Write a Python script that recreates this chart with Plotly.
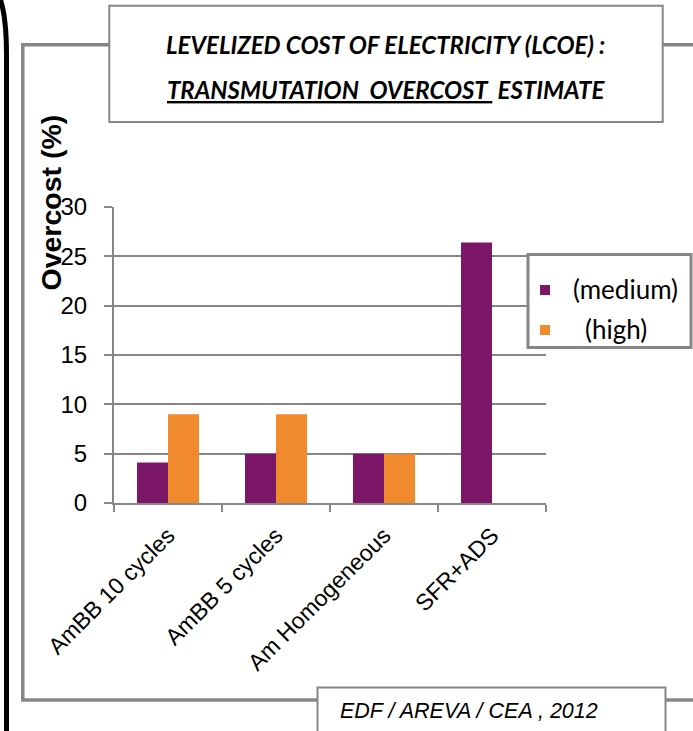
import plotly.graph_objects as go

# Chart data
categories = ["AmBB 10 cycles", "AmBB 5 cycles", "Am Homogeneous", "SFR+ADS"]
series_names = ["(medium)", "(high)"]
medium_values = [4.1, 5, 5, 26.4]
high_values = [9, 9, 5, None]
y_ticks = [0, 5, 10, 15, 20, 25, 30]

title_line1 = "LEVELIZED COST OF ELECTRICITY (LCOE) :"
title_line2_underlined = "TRANSMUTATION\u00a0\u00a0OVERCOST\u00a0"
title_line2_rest = "\u00a0ESTIMATE"
y_title = "Overcost (%)"
source_text = "EDF / AREVA / CEA , 2012"

PURPLE = "#7B1668"
ORANGE = "#F08A2C"
GRAY = "#868686"

W, H = 693, 731


def px(x):
    return x / W


def py(y):
    return 1 - y / H


fig = go.Figure()
fig.add_trace(go.Bar(x=categories, y=medium_values, name=series_names[0],
                     marker=dict(color=PURPLE, line=dict(width=0))))
fig.add_trace(go.Bar(x=categories, y=high_values, name=series_names[1],
                     marker=dict(color=ORANGE, line=dict(width=0))))

xtick_font = dict(family="Liberation Sans, Arial", size=23, color="#000000")
ytick_font = dict(family="Liberation Sans, Arial", size=24, color="#000000")

fig.update_layout(
    width=W, height=H,
    margin=dict(l=0, r=0, t=0, b=0),
    paper_bgcolor="white", plot_bgcolor="white",
    template="none",
    showlegend=False,
    barmode="group", bargap=0.426, bargroupgap=0,
    xaxis=dict(
        domain=[px(114), px(546)],
        type="category",
        tickson="boundaries",
        ticks="outside", ticklen=7, tickwidth=2, tickcolor=GRAY,
        showline=True, linecolor=GRAY, linewidth=2,
        showgrid=False, zeroline=False,
        tickangle=-45, tickfont=xtick_font,
        ticklabelstandoff=8,
        automargin=False,
    ),
    yaxis=dict(
        domain=[py(503), py(207)],
        range=[0, 30], tickvals=y_ticks,
        ticks="outside", ticklen=8, tickwidth=2, tickcolor=GRAY,
        showline=True, linecolor=GRAY, linewidth=2,
        showgrid=True, gridcolor=GRAY, gridwidth=2,
        zeroline=False, tickfont=ytick_font,
        ticklabelstandoff=12,
        automargin=False,
    ),
)

shapes = []
# Left rounded border edge (black)
shapes.append(dict(type="path", xref="paper", yref="paper",
                   path=f"M {px(0.5)},{py(0)} Q {px(6.5)},{py(18)} {px(6.5)},{py(55)} L {px(6.5)},{py(740)}",
                   line=dict(color="black", width=5)))
# Grey chart frame
shapes.append(dict(type="rect", xref="paper", yref="paper",
                   x0=px(22.8), y0=py(44.7), x1=px(710), y1=py(700),
                   line=dict(color=GRAY, width=3.5), fillcolor="rgba(0,0,0,0)"))
# Title box
shapes.append(dict(type="rect", xref="paper", yref="paper",
                   x0=px(109.3), y0=py(5.7), x1=px(662.7), y1=py(122),
                   line=dict(color=GRAY, width=2), fillcolor="white"))
# Source box
shapes.append(dict(type="rect", xref="paper", yref="paper",
                   x0=px(317.5), y0=py(687.5), x1=px(665.5), y1=py(745),
                   line=dict(color=GRAY, width=2), fillcolor="white"))
# Legend box and swatches
shapes.append(dict(type="rect", xref="paper", yref="paper",
                   x0=px(528), y0=py(254.5), x1=px(691), y1=py(347.5),
                   line=dict(color=GRAY, width=3), fillcolor="white"))
shapes.append(dict(type="rect", xref="paper", yref="paper",
                   x0=px(540), y0=py(285), x1=px(550), y1=py(295),
                   line=dict(width=0), fillcolor=PURPLE))
shapes.append(dict(type="rect", xref="paper", yref="paper",
                   x0=px(540), y0=py(325), x1=px(550), y1=py(335),
                   line=dict(width=0), fillcolor=ORANGE))

title_font = dict(family="Lato, Carlito, Calibri", size=24, color="black",
                  weight="bold", style="italic")
legend_font = dict(family="Lato, Carlito, Calibri", size=26, color="black")

annotations = [
    dict(text=title_line1, x=px(385.5), y=py(44), xref="paper", yref="paper",
         xanchor="center", yanchor="middle", showarrow=False, font=title_font),
    dict(text=f"<u>{title_line2_underlined}</u>{title_line2_rest}",
         x=px(385.5), y=py(90), xref="paper", yref="paper",
         xanchor="center", yanchor="middle", showarrow=False, font=title_font),
    dict(text=y_title, x=px(50), y=py(202.5), xref="paper", yref="paper",
         xanchor="center", yanchor="middle", showarrow=False, textangle=-90,
         font=dict(family="Liberation Sans, Arial", size=28.5, color="black", weight="bold")),
    dict(text=series_names[0], x=px(571), y=py(289), xref="paper", yref="paper",
         xanchor="left", yanchor="middle", showarrow=False, font=legend_font),
    dict(text=series_names[1], x=px(583), y=py(329), xref="paper", yref="paper",
         xanchor="left", yanchor="middle", showarrow=False, font=legend_font),
    dict(text=source_text, x=px(338), y=py(711), xref="paper", yref="paper",
         xanchor="left", yanchor="middle", showarrow=False,
         font=dict(family="Liberation Sans, Arial", size=21.5, color="black", style="italic")),
]

fig.update_layout(shapes=shapes, annotations=annotations)

fig.write_html("out.html")
